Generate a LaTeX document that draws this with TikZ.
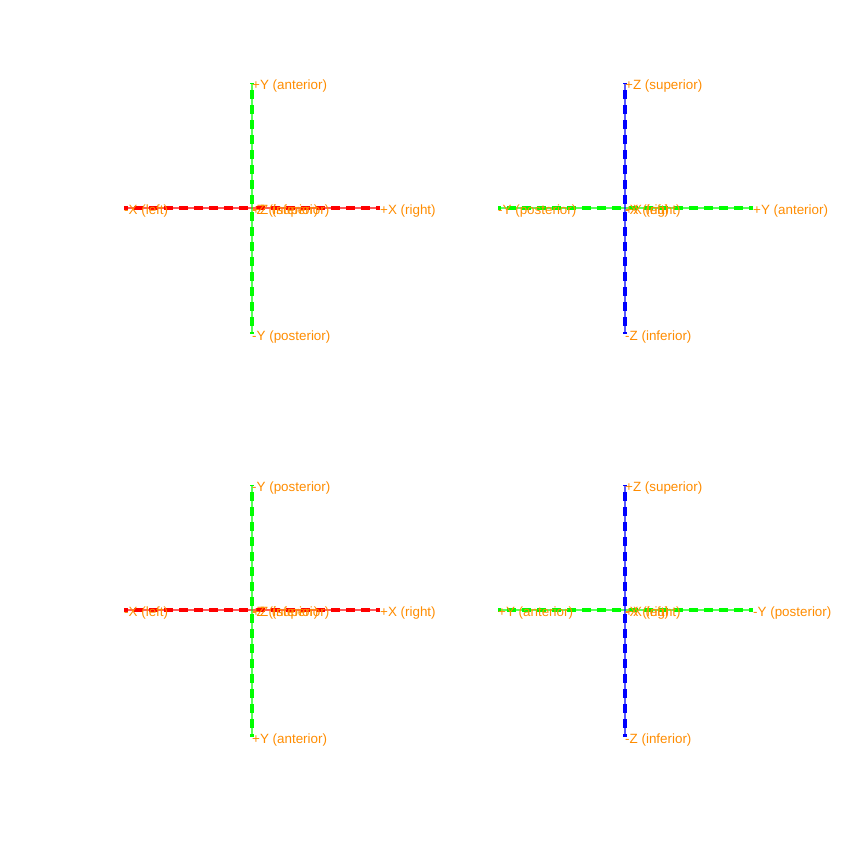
\documentclass[tikz,border=0pt]{standalone}
\usepackage{fontspec}
\setmainfont{Liberation Sans}
\definecolor{lbl}{RGB}{255,140,0}
\definecolor{ax_r}{RGB}{255,0,0}
\definecolor{ax_g}{RGB}{0,255,0}
\definecolor{ax_b}{RGB}{0,0,255}
\tikzset{
  thinax/.style={line width=1.6pt, opacity=0.65},
  thickax/.style={line width=4.2pt, dash pattern=on 9pt off 6pt, dash phase=-4pt},
  lab/.style={anchor=base west, inner sep=0pt, text=lbl, font=\fontsize{13.4}{16}\selectfont},
}
\newcommand{\myaxis}[5]{% color, name, center, end1, end2
  \draw[thinax, #1] (#4) -- (#5);
  \draw[thickax, #1] (#3) -- (#4);
  \draw[thickax, #1] (#3) -- (#5);
}
\begin{document}
\begin{tikzpicture}[x=1pt,y=-1pt]
\useasboundingbox (0,0) rectangle (847,849);
% ---------- panel 1 ----------
\coordinate (c1) at (252,208);
\coordinate (c1l) at (124,208);
\coordinate (c1r) at (380,208);
\coordinate (c1t) at (252,83);
\coordinate (c1b) at (252,334);
\myaxis{ax_r}{x1}{c1}{c1l}{c1r}
\myaxis{ax_g}{y1}{c1}{c1t}{c1b}
\node[lab] (p1a) at ([yshift=-6.5pt]c1r) {+X (right)};
\node[lab] (p1b) at ([yshift=-6.5pt]c1l) {-X (left)};
\node[lab] (p1c) at ([yshift=-6.5pt]c1t) {+Y (anterior)};
\node[lab] (p1d) at ([yshift=-6.5pt]c1b) {-Y (posterior)};
\node[lab] (p1e) at ([yshift=-6.5pt]c1) {+Z (superior)};
\node[lab] (p1f) at ([yshift=-6.5pt]c1) {-Z (inferior)};
% ---------- panel 2 ----------
\coordinate (c2) at (625,208);
\coordinate (c2l) at (498,208);
\coordinate (c2r) at (753,208);
\coordinate (c2t) at (625,83);
\coordinate (c2b) at (625,334);
\myaxis{ax_g}{y2}{c2}{c2l}{c2r}
\myaxis{ax_b}{z2}{c2}{c2t}{c2b}
\node[lab] (p2a) at ([yshift=-6.5pt]c2r) {+Y (anterior)};
\node[lab] (p2b) at ([yshift=-6.5pt]c2l) {-Y (posterior)};
\node[lab] (p2c) at ([yshift=-6.5pt]c2t) {+Z (superior)};
\node[lab] (p2d) at ([yshift=-6.5pt]c2b) {-Z (inferior)};
\node[lab] (p2e) at ([yshift=-6.5pt]c2) {+X (right)};
\node[lab] (p2f) at ([yshift=-6.5pt]c2) {-X (left)};
% ---------- panel 3 ----------
\coordinate (c3) at (252,610);
\coordinate (c3l) at (124,610);
\coordinate (c3r) at (380,610);
\coordinate (c3t) at (252,485);
\coordinate (c3b) at (252,737);
\myaxis{ax_r}{x3}{c3}{c3l}{c3r}
\myaxis{ax_g}{y3}{c3}{c3t}{c3b}
\node[lab] (p3a) at ([yshift=-6.5pt]c3r) {+X (right)};
\node[lab] (p3b) at ([yshift=-6.5pt]c3l) {-X (left)};
\node[lab] (p3c) at ([yshift=-6.5pt]c3t) {-Y (posterior)};
\node[lab] (p3d) at ([yshift=-6.5pt]c3b) {+Y (anterior)};
\node[lab] (p3e) at ([yshift=-6.5pt]c3) {+Z (superior)};
\node[lab] (p3f) at ([yshift=-6.5pt]c3) {-Z (inferior)};
% ---------- panel 4 ----------
\coordinate (c4) at (625,610);
\coordinate (c4l) at (498,610);
\coordinate (c4r) at (753,610);
\coordinate (c4t) at (625,485);
\coordinate (c4b) at (625,737);
\myaxis{ax_g}{y4}{c4}{c4l}{c4r}
\myaxis{ax_b}{z4}{c4}{c4t}{c4b}
\node[lab] (p4a) at ([yshift=-6.5pt]c4r) {-Y (posterior)};
\node[lab] (p4b) at ([yshift=-6.5pt]c4l) {+Y (anterior)};
\node[lab] (p4c) at ([yshift=-6.5pt]c4t) {+Z (superior)};
\node[lab] (p4d) at ([yshift=-6.5pt]c4b) {-Z (inferior)};
\node[lab] (p4e) at ([yshift=-6.5pt]c4) {+X (right)};
\node[lab] (p4f) at ([yshift=-6.5pt]c4) {-X (left)};
\end{tikzpicture}
\end{document}
